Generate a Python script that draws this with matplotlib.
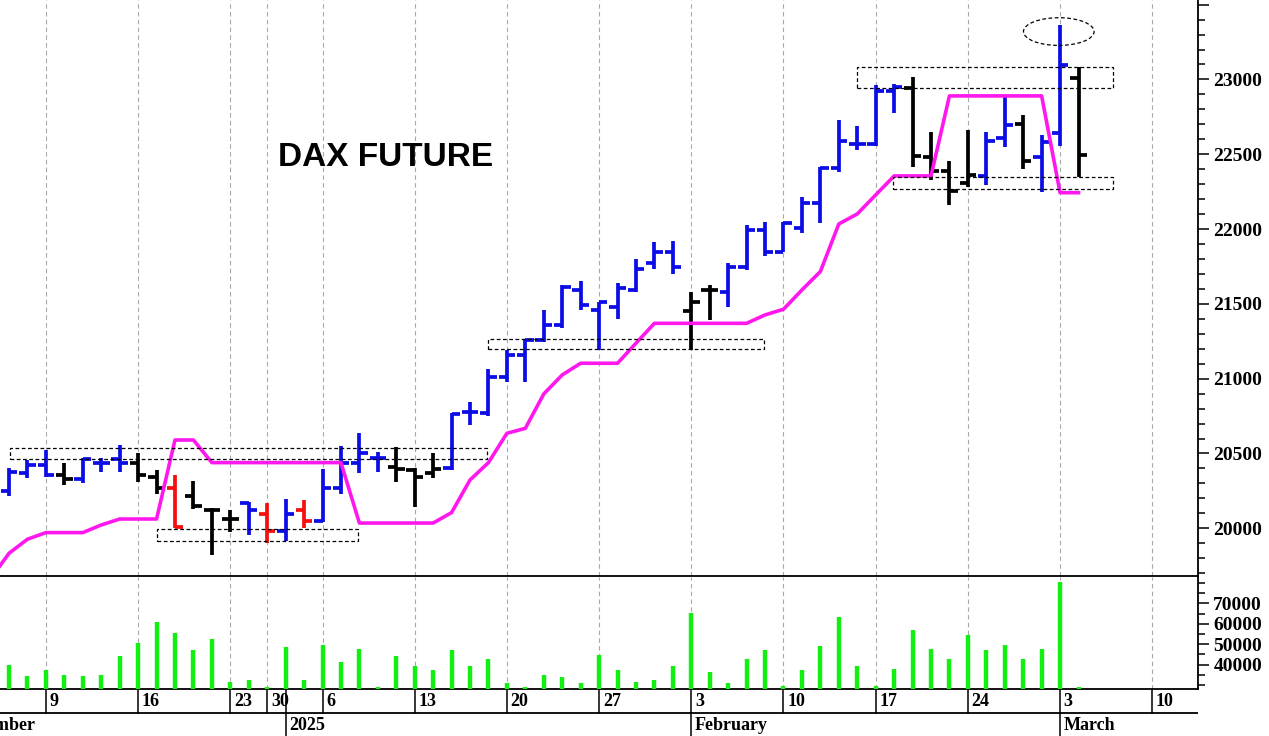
import numpy as np
import pandas as pd
import matplotlib
matplotlib.use("Agg")
import matplotlib.pyplot as plt
from matplotlib.patches import Rectangle, Ellipse
from matplotlib.ticker import FixedLocator, MultipleLocator

# trading calendar (Eurex), 5 Dec 2024 is bar 0
cal = pd.bdate_range("2024-12-02", "2025-03-14")
cal = cal.drop(pd.to_datetime(["2024-12-24", "2024-12-25", "2024-12-26",
                               "2024-12-31", "2025-01-01"]))
first = cal.get_loc(pd.Timestamp("2024-12-05"))


def pos(d):
    return cal.get_loc(pd.Timestamp(d)) - first


# daily bars, 5 Dec 2024 .. 4 Mar 2025
opens = [20252, 20368, 20423, 20356, 20327, 20439, 20461, 20439, 20341, 20267,
         20216, 20123, 20062, 20172, 20096, 19984, 20123, 20051, 20267, 20434,
         20468, 20412, 20390, 20368, 20401, 20780, 20773, 21009, 21158, 21259,
         21359, 21593, 21459, 21477, 21593, 21776, 21849, 21455, 21593, 21582,
         21749, 21994, 21849, 22005, 22177, 22406, 22569, 22569, 22925, 22941,
         22480, 22391, 22310, 22357, 22611, 22702, 22480, 22644, 23008]
highs = [20401, 20457, 20524, 20434, 20468, 20468, 20557, 20501, 20390, 20356,
         20316, 20134, 20123, 20178, 20167, 20194, 20189, 20394, 20550, 20635,
         20513, 20546, 20400, 20501, 20768, 20847, 21063, 21192, 21263, 21459,
         21626, 21655, 21515, 21642, 21798, 21916, 21923, 21582, 21626, 21771,
         22028, 22050, 22050, 22212, 22413, 22729, 22689, 22963, 22970, 23014,
         22651, 22457, 22662, 22651, 22896, 22763, 22629, 23364, 23081]
lows = [20218, 20334, 20345, 20290, 20301, 20379, 20379, 20312, 20230, 19999,
        20127, 19822, 19978, 19955, 19900, 19918, 19999, 20045, 20230, 20368,
        20379, 20312, 20145, 20334, 20390, 20691, 20751, 20980, 20980, 21248,
        21337, 21459, 21192, 21397, 21582, 21731, 21700, 21192, 21392, 21482,
        21727, 21820, 21849, 21972, 22039, 22384, 22529, 22555, 22774, 22417,
        22328, 22161, 22284, 22295, 22547, 22400, 22250, 22555, 22350]
closes = [20374, 20423, 20356, 20327, 20461, 20439, 20439, 20356, 20267, 20007,
          20149, 20123, 20062, 20123, 19984, 20096, 20051, 20267, 20434, 20506,
          20468, 20395, 20341, 20394, 20764, 20780, 21009, 21158, 21259, 21359,
          21615, 21493, 21515, 21604, 21731, 21849, 21749, 21515, 21593, 21749,
          21994, 21849, 22043, 22177, 22406, 22591, 22569, 22925, 22948, 22489,
          22391, 22257, 22362, 22589, 22696, 22457, 22584, 23097, 22493]
bar_colors = list("bbbkbbbkkrkkkbrbrbbbbkkkbbbbbbbbbbbbbkkbbbbbbbbbbkkkkbbkbbk")

volume = [39770, 34380, 37170, 35030, 34380, 35030, 44180, 50550, 60840, 55450,
          46960, 52490, 31440, 32420, 28830, 48440, 32420, 49570, 41240, 47620,
          28830, 44180, 39280, 37320, 46960, 39280, 42710, 30950, 28830, 35030,
          33740, 30800, 44800, 37320, 31440, 32420, 39130, 65100, 36340, 30800,
          42560, 46960, 29480, 37170, 48930, 63140, 39280, 29480, 37800, 56920,
          47460, 42560, 54620, 46960, 49570, 42560, 47460, 80440, 28830]

# trailing stop, 4 Dec 2024 .. 4 Mar 2025
stop = [19663, 19833, 19927, 19971, 19971, 19971, 20022, 20062, 20062, 20062,
        20590, 20590, 20439, 20439, 20439, 20439, 20439, 20439, 20439, 20439,
        20035, 20035, 20035, 20035, 20035, 20105, 20323, 20439, 20635, 20668,
        20898, 21025, 21103, 21103, 21103, 21237, 21370, 21370, 21370, 21370,
        21370, 21370, 21426, 21464, 21593, 21716, 22034, 22101, 22228, 22355,
        22355, 22355, 22890, 22890, 22890, 22890, 22890, 22890, 22243, 22243]

# dotted zones: start, end (bar index), low, high
box_x0 = [0.05, 8.0, 26.0, 45.97, 47.95]
box_x1 = [25.92, 18.94, 40.94, 59.89, 59.89]
box_lo = [20463, 19916, 21197, 22941, 22266]
box_hi = [20534, 19996, 21263, 23085, 22350]

day_dates = ["2024-12-09", "2024-12-16", "2024-12-23", "2024-12-30", "2025-01-06",
             "2025-01-13", "2025-01-20", "2025-01-27", "2025-02-03", "2025-02-10",
             "2025-02-17", "2025-02-24", "2025-03-03", "2025-03-10"]
month_dates = ["2024-12-02", "2025-01-02", "2025-02-03", "2025-03-03"]
month_labels = ["December", "2025", "February", "March"]

plt.rcParams["font.family"] = ["Liberation Serif", "DejaVu Serif"]
plt.rcParams["font.weight"] = "bold"

colmap = {"b": "#0c0ce6", "k": "#000000", "r": "#f51010"}
MAG = "#ff18ee"
GREEN = "#12f012"
GRID = "#a8a8a8"

W, H = 1269, 736
fig = plt.figure(figsize=(W / 100, H / 100), dpi=100)
ax = fig.add_axes([0, (H - 576) / H, 1198 / W, 576 / H])
axv = fig.add_axes([0, (H - 689) / H, 1198 / W, 112 / H])
axd = fig.add_axes([0, 0, 1198 / W, 47 / H])

xlim = (-0.49, 64.48)
x = np.arange(len(opens))
cols = [colmap[c] for c in bar_colors]
grid_pos = [pos(d) for d in day_dates]

# price panel
for gx in grid_pos:
    ax.axvline(gx, color=GRID, lw=0.8, ls=(0, (4, 3)), zorder=0)
ax.vlines(x, lows, highs, colors=cols, lw=2.7, zorder=3)
ax.hlines(opens, x - 0.45, x, colors=cols, lw=2.7, zorder=3)
ax.hlines(closes, x, x + 0.45, colors=cols, lw=2.7, zorder=3)
ax.plot(np.arange(-1, len(stop) - 1), stop, color=MAG, lw=2.6, zorder=4)

for x0, x1, lo, hi in zip(box_x0, box_x1, box_lo, box_hi):
    ax.add_patch(Rectangle((x0, lo), x1 - x0, hi - lo, fill=False, ec="black",
                           lw=0.9, ls=(0, (3, 2)), zorder=5))
ax.add_patch(Ellipse((56.93, 23320), 3.83, 185, fill=False, ec="black",
                     lw=0.9, ls=(0, (3, 2)), zorder=5))

ax.text(0.322, 0.727, "DAX FUTURE", transform=ax.transAxes, ha="center",
        va="center", fontsize=24, fontweight="bold", family="Liberation Sans")

ax.set_xlim(*xlim)
ax.set_ylim(19681, 23531)
ax.set_xticks([])
ax.yaxis.tick_right()
ax.yaxis.set_major_locator(FixedLocator(np.arange(20000, 23501, 500)))
ax.set_yticklabels([str(v) if v <= 23000 else "" for v in range(20000, 23501, 500)])
ax.yaxis.set_minor_locator(MultipleLocator(100))
ax.tick_params(axis="y", which="major", length=8, width=1.1, labelsize=14, pad=3)
ax.tick_params(axis="y", which="minor", length=5, width=1.1)
for s in ["top", "left"]:
    ax.spines[s].set_visible(False)
for s in ["right", "bottom"]:
    ax.spines[s].set_linewidth(1.3)

# volume panel
for gx in grid_pos:
    axv.axvline(gx, color=GRID, lw=0.8, ls=(0, (4, 3)), zorder=0)
axv.vlines(x, 0, volume, colors=GREEN, lw=3.2, zorder=3)
axv.set_xlim(*xlim)
axv.set_ylim(28000, 82900)
axv.set_xticks([])
axv.yaxis.tick_right()
axv.yaxis.set_major_locator(FixedLocator([40000, 50000, 60000, 70000]))
axv.yaxis.set_minor_locator(FixedLocator([30000, 35000, 45000, 55000, 65000, 75000, 80000]))
axv.tick_params(axis="y", which="major", length=8, width=1.1, labelsize=14, pad=3)
axv.tick_params(axis="y", which="minor", length=5, width=1.1)
axv.patch.set_alpha(0)
for s in ["top", "left"]:
    axv.spines[s].set_visible(False)
for s in ["right", "bottom"]:
    axv.spines[s].set_linewidth(1.3)

# date strip
axd.set_xlim(*xlim)
axd.set_ylim(0, 2)
axd.axis("off")
axd.axhline(1, color="black", lw=1.3)
for d in day_dates:
    p = pos(d)
    axd.plot([p, p], [1, 2], color="black", lw=1.1)
    axd.text(p + 0.2, 1.48, str(pd.Timestamp(d).day), ha="left", va="center",
             fontsize=13, clip_on=True)
for d, lab in zip(month_dates, month_labels):
    p = pos(d)
    top = 2 if lab == "2025" else 1
    axd.plot([p, p], [0, top], color="black", lw=1.1)
    axd.text(p + 0.2, 0.45, lab, ha="left", va="center", fontsize=13, clip_on=True)

fig.savefig("out.png", dpi=100)
